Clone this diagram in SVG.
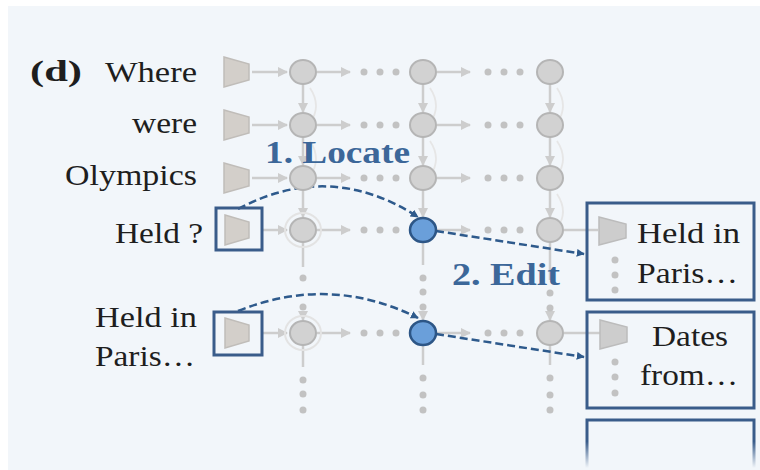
<svg xmlns="http://www.w3.org/2000/svg" width="760" height="470" viewBox="0 0 760 470">
<defs>
<style>
.lbl{font-family:'Times New Roman','Liberation Serif',Times,serif;font-size:29px;fill:#1e1e1e}
.blue{font-family:'Times New Roman','Liberation Serif',Times,serif;font-size:31px;font-weight:bold;fill:#3c6799}
.trap{fill:#d3cfca;stroke:#c0bdb9;stroke-width:1.5}
.trap2{fill:#cdcdcd;stroke:#bcbcbc;stroke-width:1.5}
.node{fill:#d2d2d2;stroke:#b5b5b5;stroke-width:2}
.halo{fill:none;stroke:#e3e3e3;stroke-width:2}
.act{fill:#6a9fda;stroke:#2d5686;stroke-width:2.5}
.gl{stroke:#cdcdcd;stroke-width:2.5;fill:none}
.dot{fill:#c2c2c2}
.box{fill:none;stroke:#3a5c8a;stroke-width:3}
.dash{fill:none;stroke:#2e5a8c;stroke-width:2.5;stroke-dasharray:8 4}
</style>
<marker id="ga" viewBox="0 0 10 10" refX="9" refY="5" markerWidth="4" markerHeight="4" orient="auto" markerUnits="strokeWidth"><path d="M0,0 L10,5 L0,10 z" fill="#cdcdcd"/></marker>
<marker id="ba" viewBox="0 0 10 10" refX="9" refY="5" markerWidth="3.2" markerHeight="3.2" orient="auto" markerUnits="strokeWidth"><path d="M0,0 L10,5 L0,10 z" fill="#2e5a8c"/></marker>
<linearGradient id="fade" x1="0" y1="0" x2="0" y2="1"><stop offset="0" stop-color="#3a5c8a"/><stop offset="0.45" stop-color="#3a5c8a"/><stop offset="1" stop-color="#3a5c8a" stop-opacity="0"/></linearGradient>
</defs>
<rect x="0" y="0" width="760" height="470" fill="#ffffff"/>
<rect x="8" y="6" width="752" height="464" fill="#f2f6fa"/>

<g id="connectors">
<g>
<line class="gl" x1="252" y1="72" x2="287" y2="72" marker-end="url(#ga)"/>
<line class="gl" x1="317" y1="72" x2="350" y2="72" marker-end="url(#ga)"/>
<line class="gl" x1="437" y1="72" x2="470" y2="72" marker-end="url(#ga)"/>
<line class="gl" x1="252" y1="125" x2="287" y2="125" marker-end="url(#ga)"/>
<line class="gl" x1="317" y1="125" x2="350" y2="125" marker-end="url(#ga)"/>
<line class="gl" x1="437" y1="125" x2="470" y2="125" marker-end="url(#ga)"/>
<line class="gl" x1="252" y1="178" x2="287" y2="178" marker-end="url(#ga)"/>
<line class="gl" x1="317" y1="178" x2="350" y2="178" marker-end="url(#ga)"/>
<line class="gl" x1="437" y1="178" x2="470" y2="178" marker-end="url(#ga)"/>
<line class="gl" x1="262" y1="230" x2="287" y2="230" marker-end="url(#ga)"/>
<line class="gl" x1="317" y1="230" x2="350" y2="230" marker-end="url(#ga)"/>
<line class="gl" x1="437" y1="230" x2="470" y2="230" marker-end="url(#ga)"/>
<line class="gl" x1="564" y1="230" x2="598" y2="230"/>
<line class="gl" x1="262" y1="333" x2="287" y2="333" marker-end="url(#ga)"/>
<line class="gl" x1="317" y1="333" x2="350" y2="333" marker-end="url(#ga)"/>
<line class="gl" x1="437" y1="333" x2="470" y2="333" marker-end="url(#ga)"/>
<line class="gl" x1="564" y1="333" x2="600" y2="333"/>
</g>
<g>
<line class="gl" x1="303" y1="84" x2="303" y2="112" marker-end="url(#ga)"/>
<line class="gl" x1="303" y1="137" x2="303" y2="165" marker-end="url(#ga)"/>
<line class="gl" x1="303" y1="190" x2="303" y2="217" marker-end="url(#ga)"/>
<line class="gl" x1="423" y1="84" x2="423" y2="112" marker-end="url(#ga)"/>
<line class="gl" x1="423" y1="137" x2="423" y2="165" marker-end="url(#ga)"/>
<line class="gl" x1="423" y1="190" x2="423" y2="217" marker-end="url(#ga)"/>
<line class="gl" x1="550" y1="84" x2="550" y2="112" marker-end="url(#ga)"/>
<line class="gl" x1="550" y1="137" x2="550" y2="165" marker-end="url(#ga)"/>
<line class="gl" x1="550" y1="190" x2="550" y2="217" marker-end="url(#ga)"/>
<line class="gl" x1="303" y1="242" x2="303" y2="267"/>
<line class="gl" x1="423" y1="242" x2="423" y2="265"/>
<line class="gl" x1="550" y1="242" x2="550" y2="280"/>
<line class="gl" x1="303" y1="312" x2="303" y2="320" marker-end="url(#ga)"/>
<line class="gl" x1="423" y1="312" x2="423" y2="320" marker-end="url(#ga)"/>
<line class="gl" x1="550" y1="312" x2="550" y2="320" marker-end="url(#ga)"/>
<line class="gl" x1="303" y1="345" x2="303" y2="367"/>
<line class="gl" x1="423" y1="345" x2="423" y2="365"/>
<line class="gl" x1="550" y1="345" x2="550" y2="365"/>
</g>
<g fill="none" stroke="#e6e6e6" stroke-width="1.8">
<path d="M310,88 Q322,106 310,123"/>
<path d="M310,141 Q322,159 310,176"/>
<path d="M430,88 Q442,106 430,123"/>
<path d="M430,141 Q442,159 430,176"/>
<path d="M557,88 Q569,106 557,123"/>
<path d="M557,141 Q569,159 557,176"/>
<path d="M557,194 Q569,212 557,228"/>
</g>
<g class="dot">
<circle cx="364" cy="72" r="3.5"/><circle cx="380" cy="72" r="3.5"/><circle cx="396" cy="72" r="3.5"/>
<circle cx="488" cy="72" r="3.5"/><circle cx="504" cy="72" r="3.5"/><circle cx="520" cy="72" r="3.5"/>
<circle cx="364" cy="125" r="3.5"/><circle cx="380" cy="125" r="3.5"/><circle cx="396" cy="125" r="3.5"/>
<circle cx="488" cy="125" r="3.5"/><circle cx="504" cy="125" r="3.5"/><circle cx="520" cy="125" r="3.5"/>
<circle cx="364" cy="178" r="3.5"/><circle cx="380" cy="178" r="3.5"/><circle cx="396" cy="178" r="3.5"/>
<circle cx="488" cy="178" r="3.5"/><circle cx="504" cy="178" r="3.5"/><circle cx="520" cy="178" r="3.5"/>
<circle cx="364" cy="230" r="3.5"/><circle cx="380" cy="230" r="3.5"/><circle cx="396" cy="230" r="3.5"/>
<circle cx="488" cy="230" r="3.5"/><circle cx="504" cy="230" r="3.5"/><circle cx="520" cy="230" r="3.5"/>
<circle cx="364" cy="333" r="3.5"/><circle cx="380" cy="333" r="3.5"/><circle cx="396" cy="333" r="3.5"/>
<circle cx="488" cy="333" r="3.5"/><circle cx="504" cy="333" r="3.5"/><circle cx="520" cy="333" r="3.5"/>
<circle cx="303" cy="278" r="3.5"/><circle cx="303" cy="307" r="3.5"/>
<circle cx="423" cy="278" r="3.5"/><circle cx="423" cy="292" r="3.5"/><circle cx="423" cy="307" r="3.5"/>
<circle cx="550" cy="293" r="3.5"/><circle cx="550" cy="308" r="3.5"/>
<circle cx="303" cy="380" r="3.5"/><circle cx="303" cy="394" r="3.5"/><circle cx="303" cy="410" r="3.5"/>
<circle cx="423" cy="378" r="3.5"/><circle cx="423" cy="395" r="3.5"/><circle cx="423" cy="410" r="3.5"/>
<circle cx="550" cy="378" r="3.5"/><circle cx="550" cy="395" r="3.5"/><circle cx="550" cy="410" r="3.5"/>
</g>
<path class="dash" d="M238,209 Q330,160 418,217" marker-end="url(#ba)"/>
<path class="dash" d="M238,311 Q330,274 418,318" marker-end="url(#ba)"/>
<path class="dash" d="M436,231 L584,254" marker-end="url(#ba)"/>
<path class="dash" d="M436,334 L584,357" marker-end="url(#ba)"/>
</g>

<g id="labels">
<text class="lbl" x="30" y="81" font-weight="bold" textLength="52" lengthAdjust="spacingAndGlyphs">(d)</text>
<text class="lbl" x="105" y="82" textLength="92" lengthAdjust="spacingAndGlyphs">Where</text>
<text class="lbl" x="132" y="133" textLength="65" lengthAdjust="spacingAndGlyphs">were</text>
<text class="lbl" x="65" y="185" textLength="132" lengthAdjust="spacingAndGlyphs">Olympics</text>
<text class="lbl" x="115" y="243" textLength="88" lengthAdjust="spacingAndGlyphs">Held ?</text>
<text class="lbl" x="95" y="327" textLength="102" lengthAdjust="spacingAndGlyphs">Held in</text>
<text class="lbl" x="95" y="366" textLength="100" lengthAdjust="spacingAndGlyphs">Paris…</text>
<text class="blue" x="265" y="163" textLength="145" lengthAdjust="spacingAndGlyphs">1. Locate</text>
<text class="blue" x="452" y="285" textLength="108" lengthAdjust="spacingAndGlyphs">2. Edit</text>
</g>

<g id="enc-where"><polygon class="trap" points="224,57 249,64 249,80 224,87"/></g>
<g id="enc-were"><polygon class="trap" points="224,110 249,117 249,133 224,140"/></g>
<g id="enc-olympics"><polygon class="trap" points="224,163 249,170 249,186 224,193"/></g>
<g id="enc-held">
<polygon class="trap" points="225,215 249,222 249,238 225,245"/>
<rect class="box" x="216" y="208" width="46" height="42"/>
</g>
<g id="enc-heldin">
<polygon class="trap" points="225,318 249,325 249,341 225,348"/>
<rect class="box" x="214" y="312" width="48" height="43"/>
</g>

<g id="c1r1"><ellipse class="node" cx="303" cy="72" rx="13" ry="12"/></g>
<g id="c2r1"><ellipse class="node" cx="423" cy="72" rx="13" ry="12"/></g>
<g id="c3r1"><ellipse class="node" cx="550" cy="72" rx="13" ry="12"/></g>
<g id="c1r2"><ellipse class="node" cx="303" cy="125" rx="13" ry="12"/></g>
<g id="c2r2"><ellipse class="node" cx="423" cy="125" rx="13" ry="12"/></g>
<g id="c3r2"><ellipse class="node" cx="550" cy="125" rx="13" ry="12"/></g>
<g id="c1r3"><ellipse class="node" cx="303" cy="178" rx="13" ry="12"/></g>
<g id="c2r3"><ellipse class="node" cx="423" cy="178" rx="13" ry="12"/></g>
<g id="c3r3"><ellipse class="node" cx="550" cy="178" rx="13" ry="12"/></g>
<g id="c1r4"><ellipse class="halo" cx="303" cy="230" rx="18" ry="17"/><ellipse class="node" cx="303" cy="230" rx="13" ry="12"/></g>
<g id="c2r4"><ellipse class="act" cx="423" cy="230" rx="13" ry="12"/></g>
<g id="c3r4"><ellipse class="node" cx="550" cy="230" rx="13" ry="12"/></g>
<g id="c1r5"><ellipse class="halo" cx="303" cy="333" rx="18" ry="17"/><ellipse class="node" cx="303" cy="333" rx="13" ry="12"/></g>
<g id="c2r5"><ellipse class="act" cx="423" cy="333" rx="13" ry="12"/></g>
<g id="c3r5"><ellipse class="node" cx="550" cy="333" rx="13" ry="12"/></g>

<g id="out1">
<rect class="box" x="587" y="203" width="167" height="97" fill="#f2f6fa"/>
<polygon class="trap2" points="599,217 626,224 626,238 599,245"/>
<circle class="dot" cx="615" cy="260" r="3.5"/><circle class="dot" cx="615" cy="275" r="3.5"/><circle class="dot" cx="615" cy="290" r="3.5"/>
<text class="lbl" x="637" y="243" textLength="103" lengthAdjust="spacingAndGlyphs">Held in</text>
<text class="lbl" x="637" y="283" textLength="101" lengthAdjust="spacingAndGlyphs">Paris…</text>
</g>
<g id="out2">
<rect class="box" x="587" y="312" width="167" height="96" fill="#f2f6fa"/>
<polygon class="trap2" points="600,320 627,327 627,342 600,349"/>
<circle class="dot" cx="615" cy="362" r="3.5"/><circle class="dot" cx="615" cy="377" r="3.5"/><circle class="dot" cx="615" cy="393" r="3.5"/>
<text class="lbl" x="652" y="346" textLength="76" lengthAdjust="spacingAndGlyphs">Dates</text>
<text class="lbl" x="640" y="385" textLength="98" lengthAdjust="spacingAndGlyphs">from…</text>
</g>
<g id="out3">
<path d="M587,468 V420 H754 V468" fill="none" stroke="url(#fade)" stroke-width="3"/>
</g>
</svg>
